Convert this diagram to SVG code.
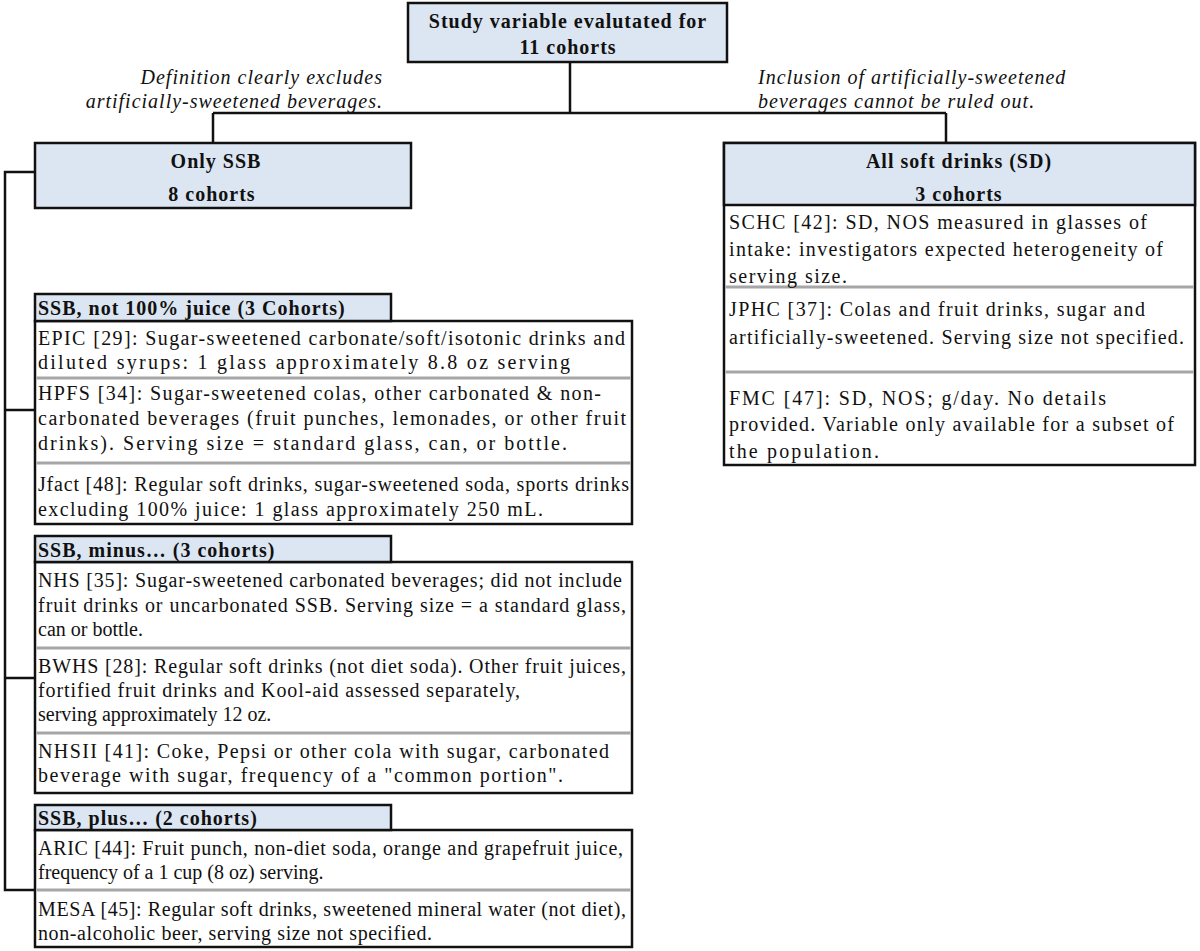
<svg xmlns="http://www.w3.org/2000/svg" width="1200" height="951" viewBox="0 0 1200 951">
<style>
.t{font-family:"Liberation Serif","Times New Roman",serif;font-size:20px;fill:#111}
.b{font-weight:bold;letter-spacing:1px}
.i{font-style:italic;letter-spacing:1px}
.c{text-anchor:middle}
.e{text-anchor:end}
.hd{fill:#dce6f2;stroke:#111;stroke-width:2.5}
.bx{fill:#fff;stroke:#111;stroke-width:2.5}
.sep{stroke:#a6a6a6;stroke-width:3}
.ln{fill:none;stroke:#111;stroke-width:2.5}
</style>
<rect width="1200" height="951" fill="#fff"/>
<g id="connectors">
<path class="ln" d="M570 62V113M213 113H946M213 113V143M946 113V143"/>
<path class="ln" d="M35 172H5V890H35M5 410H35M5 678H35"/>
<text class="t i e" x="383" y="84">Definition clearly excludes</text>
<text class="t i e" x="383" y="108">artificially-sweetened beverages.</text>
<text class="t i" x="758" y="84">Inclusion of artificially-sweetened</text>
<text class="t i" x="758" y="108">beverages cannot be ruled out.</text>
</g>
<g id="root">
<rect class="hd" x="408" y="3" width="319" height="59"/>
<text class="t b c" x="568" y="28">Study variable evalutated for</text>
<text class="t b c" x="568" y="54">11 cohorts</text>
</g>
<g id="only-ssb">
<rect class="hd" x="35" y="143" width="376" height="65"/>
<text class="t b c" x="216" y="168">Only SSB</text>
<text class="t b c" x="212" y="201">8 cohorts</text>
</g>
<g id="all-sd">
<rect class="bx" x="724" y="143" width="471" height="322"/>
<rect class="hd" x="724" y="143" width="471" height="62"/>
<text class="t b c" x="959" y="168">All soft drinks (SD)</text>
<text class="t b c" x="959" y="201">3 cohorts</text>
<line class="sep" x1="725.5" y1="287" x2="1193.5" y2="287"/>
<line class="sep" x1="725.5" y1="372" x2="1193.5" y2="372"/>
<text class="t" x="729" y="229" textLength="418" lengthAdjust="spacing">SCHC [42]: SD, NOS measured in glasses of</text>
<text class="t" x="729" y="256" textLength="434" lengthAdjust="spacing">intake: investigators expected heterogeneity of</text>
<text class="t" x="729" y="283" textLength="118" lengthAdjust="spacing">serving size.</text>
<text class="t" x="729" y="316" textLength="416" lengthAdjust="spacing">JPHC [37]: Colas and fruit drinks, sugar and</text>
<text class="t" x="729" y="344" textLength="455" lengthAdjust="spacing">artificially-sweetened. Serving size not specified.</text>
<text class="t" x="729" y="405" textLength="377" lengthAdjust="spacing">FMC [47]: SD, NOS; g/day. No details</text>
<text class="t" x="729" y="431" textLength="445" lengthAdjust="spacing">provided. Variable only available for a subset of</text>
<text class="t" x="729" y="458" textLength="150" lengthAdjust="spacing">the population.</text>
</g>
<g id="group-not-juice">
<rect class="bx" x="35" y="321" width="597" height="203"/>
<rect class="hd" x="35" y="294" width="356" height="27"/>
<text class="t b" x="38" y="315">SSB, not 100% juice (3 Cohorts)</text>
<line class="sep" x1="36.5" y1="378" x2="630.5" y2="378"/>
<line class="sep" x1="36.5" y1="463" x2="630.5" y2="463"/>
<text class="t" x="38" y="345" textLength="587" lengthAdjust="spacing">EPIC [29]: Sugar-sweetened carbonate/soft/isotonic drinks and</text>
<text class="t" x="38" y="369" textLength="532" lengthAdjust="spacing">diluted syrups: 1 glass approximately 8.8 oz serving</text>
<text class="t" x="38" y="400" textLength="563" lengthAdjust="spacing">HPFS [34]: Sugar-sweetened colas, other carbonated &amp; non-</text>
<text class="t" x="38" y="425" textLength="588" lengthAdjust="spacing">carbonated beverages (fruit punches, lemonades, or other fruit</text>
<text class="t" x="38" y="450" textLength="529" lengthAdjust="spacing">drinks). Serving size = standard glass, can, or bottle.</text>
<text class="t" x="38" y="491" textLength="591" lengthAdjust="spacing">Jfact [48]: Regular soft drinks, sugar-sweetened soda, sports drinks</text>
<text class="t" x="38" y="516" textLength="505" lengthAdjust="spacing">excluding 100% juice: 1 glass approximately 250 mL.</text>
</g>
<g id="group-minus">
<rect class="bx" x="35" y="562" width="597" height="231"/>
<rect class="hd" x="35" y="536" width="356" height="26"/>
<text class="t b" x="38" y="557">SSB, minus… (3 cohorts)</text>
<line class="sep" x1="36.5" y1="648" x2="630.5" y2="648"/>
<line class="sep" x1="36.5" y1="733" x2="630.5" y2="733"/>
<text class="t" x="38" y="587" textLength="584" lengthAdjust="spacing">NHS [35]: Sugar-sweetened carbonated beverages; did not include</text>
<text class="t" x="38" y="612" textLength="588" lengthAdjust="spacing">fruit drinks or uncarbonated SSB. Serving size = a standard glass,</text>
<text class="t" x="38" y="636">can or bottle.</text>
<text class="t" x="38" y="673" textLength="588" lengthAdjust="spacing">BWHS [28]: Regular soft drinks (not diet soda). Other fruit juices,</text>
<text class="t" x="38" y="697" textLength="482" lengthAdjust="spacing">fortified fruit drinks and Kool-aid assessed separately,</text>
<text class="t" x="38" y="721">serving approximately 12 oz.</text>
<text class="t" x="38" y="758" textLength="571" lengthAdjust="spacing">NHSII [41]: Coke, Pepsi or other cola with sugar, carbonated</text>
<text class="t" x="38" y="782" textLength="525" lengthAdjust="spacing">beverage with sugar, frequency of a "common portion".</text>
</g>
<g id="group-plus">
<rect class="bx" x="35" y="830" width="597" height="117"/>
<rect class="hd" x="35" y="805" width="356" height="25"/>
<text class="t b" x="38" y="825">SSB, plus… (2 cohorts)</text>
<line class="sep" x1="36.5" y1="890" x2="630.5" y2="890"/>
<text class="t" x="38" y="855" textLength="585" lengthAdjust="spacing">ARIC [44]: Fruit punch, non-diet soda, orange and grapefruit juice,</text>
<text class="t" x="38" y="879">frequency of a 1 cup (8 oz) serving.</text>
<text class="t" x="38" y="916" textLength="588" lengthAdjust="spacing">MESA [45]: Regular soft drinks, sweetened mineral water (not diet),</text>
<text class="t" x="38" y="940" textLength="394" lengthAdjust="spacing">non-alcoholic beer, serving size not specified.</text>
</g>
</svg>
